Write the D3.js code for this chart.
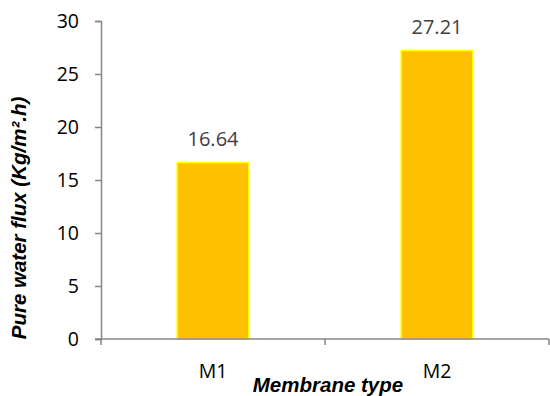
<!DOCTYPE html>
<html><head><meta charset="utf-8">
<script src="https://cdn.jsdelivr.net/npm/d3@7"></script>
<style>body{margin:0;background:#fff}</style>
</head><body>
<script>
const categories = ["M1", "M2"];
const values = [16.64, 27.21];
const yTicks = [0, 5, 10, 15, 20, 25, 30];

const W = 550, H = 396;
const m = {left: 101, right: 1, top: 21, bottom: 57};
const svg = d3.select("body").append("svg").attr("width", W).attr("height", H);
const x = d3.scaleBand().domain(categories).range([m.left, W - m.right]).paddingInner(0.68).paddingOuter(0.34);
const y = d3.scaleLinear().domain([0, 30]).range([H - m.bottom, m.top]);
const axisCol = "#868686";
const tickFont = "'Open Sans', sans-serif";
const fs = 19.5;

// bars
svg.selectAll("rect.bar").data(values).join("rect")
  .attr("x", (d, i) => x(categories[i]))
  .attr("y", d => y(d))
  .attr("width", x.bandwidth())
  .attr("height", d => y(0) - y(d))
  .attr("fill", "#FFC000").attr("stroke", "#FFFF00").attr("stroke-width", 1.5);

// data labels
svg.selectAll("text.lab").data(values).join("text")
  .attr("x", (d, i) => x(categories[i]) + x.bandwidth() / 2)
  .attr("y", d => y(d) - 17)
  .attr("text-anchor", "middle").attr("font-family", tickFont).attr("font-size", 20)
  .attr("fill", "#404040").text(d => d.toFixed(2));

// y axis
const ya = svg.append("g").attr("transform", `translate(${m.left},0)`)
  .call(d3.axisLeft(y).tickValues(yTicks).tickSize(6).tickPadding(16));
ya.select(".domain").attr("stroke", axisCol).attr("stroke-width", 1.5);
ya.selectAll(".tick line").attr("stroke", axisCol).attr("stroke-width", 1.5);
ya.selectAll("text").attr("font-family", tickFont).attr("font-size", fs).attr("fill", "#000");

// x axis
const xb = d3.scaleLinear().domain([0, 2]).range([m.left, W - m.right]);
const xa = svg.append("g").attr("transform", `translate(0,${y(0)})`);
xa.append("line").attr("x1", m.left - 6).attr("x2", W - m.right).attr("stroke", axisCol).attr("stroke-width", 1.5);
xa.selectAll("line.t").data([0, 1, 2]).join("line")
  .attr("x1", d => xb(d)).attr("x2", d => xb(d)).attr("y1", 0).attr("y2", 6)
  .attr("stroke", axisCol).attr("stroke-width", 1.5);
xa.selectAll("text").data(categories).join("text")
  .attr("x", d => x(d) + x.bandwidth() / 2).attr("y", 39)
  .attr("text-anchor", "middle").attr("font-family", tickFont).attr("font-size", fs).attr("fill", "#000")
  .text(d => d);

// titles
svg.append("text").attr("x", 328).attr("y", 392).attr("text-anchor", "middle")
  .attr("font-family", "'Liberation Sans', Arial, sans-serif").attr("font-weight", "bold").attr("font-style", "italic")
  .attr("font-size", 20.5).text("Membrane type");
svg.append("text").attr("transform", "translate(26,218) rotate(-90)").attr("text-anchor", "middle")
  .attr("font-family", "'Liberation Sans', Arial, sans-serif").attr("font-weight", "bold").attr("font-style", "italic")
  .attr("font-size", 20.5).text("Pure water flux (Kg/m².h)");
</script>
</body></html>
